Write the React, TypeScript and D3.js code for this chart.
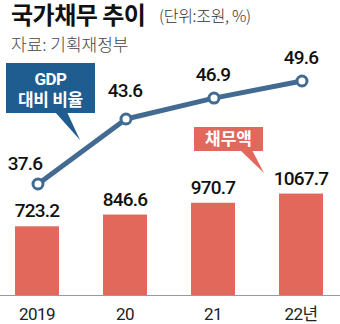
import React from "react";
import * as d3 from "d3";

const years = ["2019", "20", "21", "22년"];
const debt = [723.2, 846.6, 970.7, 1067.7];
const debtLabels = ["723.2", "846.6", "970.7", "1067.7"];
const ratio = [37.6, 43.6, 46.9, 49.6];
const ratioLabels = ["37.6", "43.6", "46.9", "49.6"];

const W = 340;
const H = 324;
const BAR = "#e2685b";
const LINE = "#436b92";
const BOX_BLUE = "#1f5c8f";
const NUM_FONT = "Roboto, 'Liberation Sans', Arial, sans-serif";
const KR_FONT = "'Noto Sans CJK KR', 'Noto Sans', sans-serif";

export default function App() {
  const x = d3.scaleBand<string>().domain(years).range([-7, 345]).paddingInner(0.5).paddingOuter(0.25);
  const yBar = d3.scaleLinear().domain([0, 1200]).range([295, 181]);
  const yLine = d3.scaleLinear().domain([37.6, 43.6, 49.6]).range([184, 119, 81]);
  const cx = (i: number) => (x(years[i]) as number) + x.bandwidth() / 2 + 1;
  const line = d3
    .line<number>()
    .x((_, i) => cx(i))
    .y((d) => yLine(d));

  return (
    <div style={{ position: "fixed", left: 0, top: 0, width: W, height: H, background: "#fff" }}>
      <svg width={W} height={H} style={{ display: "block" }}>
        <rect width={W} height={H} fill="#fff" />
        {/* Title */}
        <text x={11} y={24} fontFamily={KR_FONT} fontWeight={700} fontSize={24} letterSpacing={-0.5} fill="#111">
          국가채무 추이
        </text>
        <text x={159} y={22} fontFamily={KR_FONT} fontWeight={300} fontSize={16} letterSpacing={-0.3} fill="#333">
          (단위:조원, %)
        </text>
        <text x={11} y={51} fontFamily={KR_FONT} fontWeight={300} fontSize={17} fill="#444">
          자료: 기획재정부
        </text>

        {/* bars */}
        {debt.map((d, i) => (
          <rect key={i} x={x(years[i])} y={yBar(d)} width={x.bandwidth()} height={yBar(0) - yBar(d)} fill={BAR} />
        ))}
        {debt.map((d, i) => (
          <text
            key={"bl" + i}
            x={(x(years[i]) as number) + x.bandwidth() / 2}
            y={yBar(d) - 9}
            textAnchor="middle"
            fontFamily={NUM_FONT}
            fontWeight={500}
            fontSize={19}
            letterSpacing={-0.8}
            fill="#111"
          >
            {debtLabels[i]}
          </text>
        ))}

        {/* baseline */}
        <line x1={0} x2={W} y1={295.5} y2={295.5} stroke="#9a9a9a" strokeWidth={1} />
        {years.map((yr, i) => (
          <text
            key={"x" + i}
            x={(x(yr) as number) + x.bandwidth() / 2}
            y={320}
            textAnchor="middle"
            fontFamily={NUM_FONT + ", " + KR_FONT}
            fontSize={17}
            letterSpacing={-0.5}
            fill="#222"
          >
            {yr}
          </text>
        ))}

        {/* red callout */}
        <path d="M 240 150 L 252 150 L 264 173 Z" fill={BAR} />
        <rect x={194} y={127} width={69} height={24} fill={BAR} />
        <text x={228.5} y={145} textAnchor="middle" fontFamily={KR_FONT} fontWeight={700} fontSize={17} fill="#fff">
          채무액
        </text>

        {/* line */}
        <path d={line(ratio) as string} fill="none" stroke={LINE} strokeWidth={5} strokeLinejoin="round" />
        {ratio.map((r, i) => (
          <circle key={"c" + i} cx={cx(i)} cy={yLine(r)} r={5} fill="#fff" stroke={LINE} strokeWidth={3} />
        ))}
        {ratio.map((r, i) => (
          <text
            key={"ll" + i}
            x={i === 0 ? cx(i) - 13 : cx(i) - 1}
            y={yLine(r) - (i === 0 ? 14 : i === 1 ? 22 : 17)}
            textAnchor="middle"
            fontFamily={NUM_FONT}
            fontWeight={500}
            fontSize={19}
            letterSpacing={-0.8}
            fill="#111"
          >
            {ratioLabels[i]}
          </text>
        ))}

        {/* blue callout */}
        <path d="M 55 112 L 67 112 L 80 140 Z" fill={BOX_BLUE} />
        <rect x={6} y={63} width={89} height={50} fill={BOX_BLUE} />
        <text x={50.5} y={85} textAnchor="middle" fontFamily={NUM_FONT} fontWeight={700} fontSize={17} letterSpacing={-0.5} fill="#fff">
          GDP
        </text>
        <text x={50.5} y={106} textAnchor="middle" fontFamily={KR_FONT} fontWeight={700} fontSize={17} letterSpacing={-0.3} fill="#fff">
          대비 비율
        </text>
      </svg>
    </div>
  );
}
